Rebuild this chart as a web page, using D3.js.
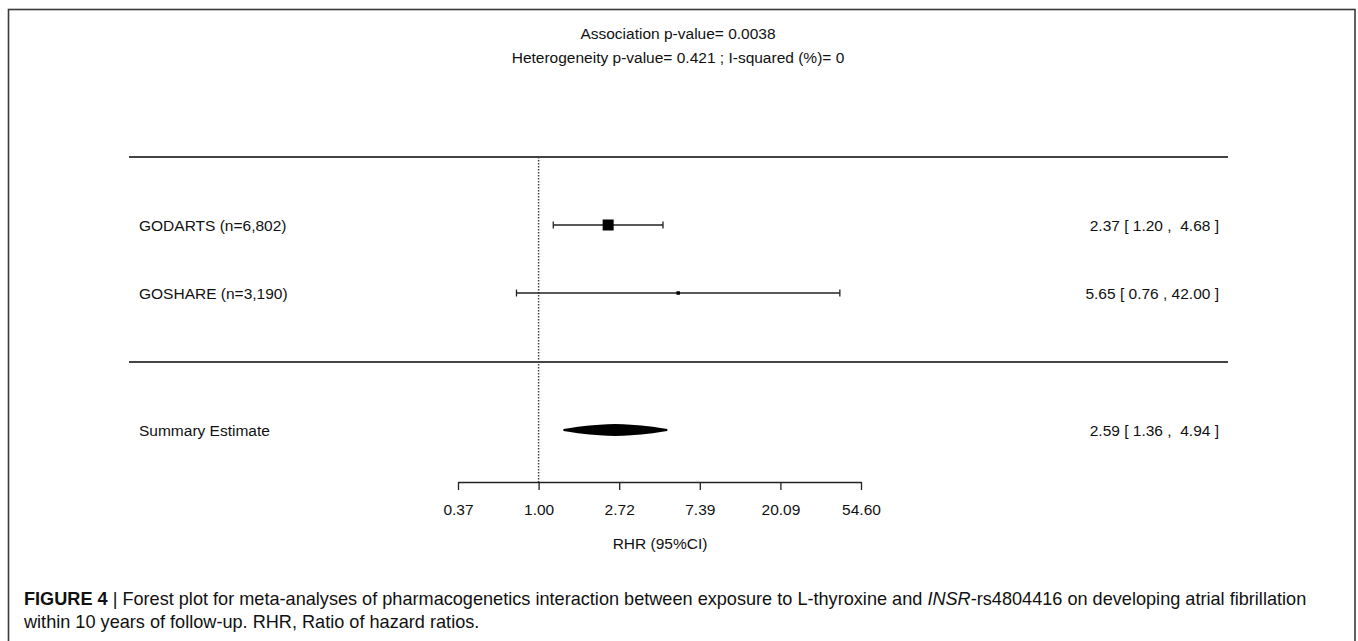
<!DOCTYPE html>
<html>
<head>
<meta charset="utf-8">
<script src="https://cdn.jsdelivr.net/npm/d3@7/dist/d3.min.js"></script>
<style>
  html, body { margin: 0; padding: 0; background: #fff; }
  svg { display: block; }
  text { font-family: Arial, "Liberation Sans", sans-serif; fill: #111; }
</style>
</head>
<body>
<svg id="chart" width="1358" height="641"></svg>
<script>
// ---- data ----
const studies = ["GODARTS (n=6,802)", "GOSHARE (n=3,190)"];
const estimates = [2.37, 5.65];
const lowers = [1.20, 0.76];
const uppers = [4.68, 42.00];
const weights = [11, 3.5]; // relative box size
const summaryLabel = "Summary Estimate";
const summary = { est: 2.59, lo: 1.36, hi: 4.94 };
const tickValues = [Math.exp(-1), 1, Math.exp(1), Math.exp(2), Math.exp(3), Math.exp(4)];
const tickLabels = ["0.37", "1.00", "2.72", "7.39", "20.09", "54.60"];
const titleLines = ["Association p-value= 0.0038", "Heterogeneity p-value= 0.421 ; I-squared (%)= 0"];
const axisTitle = "RHR (95%CI)";

(function () {
const svg = d3.select("#chart");
const fmt = d3.format(".2f");
const ciText = (e, l, u) => `${fmt(e)} [ ${fmt(l)} , ${fmt(u).padStart(5, "\u00a0")} ]`;

// frame
svg.append("rect").attr("x", 8.5).attr("y", 9.5).attr("width", 1346.5).attr("height", 660)
  .attr("fill", "none").attr("stroke", "#3a3a3a").attr("stroke-width", 1.6);

const x = d3.scaleLog().domain([Math.exp(-1), Math.exp(4)]).range([458, 861]);
const rowY = d3.scaleOrdinal().domain(studies).range([225, 293]);
const sumY = 430;
const fs = 15.5;

// titles
svg.selectAll("text.title").data(titleLines).join("text")
  .attr("class", "title")
  .attr("x", 678).attr("y", (d, i) => 33 + i * 24)
  .attr("text-anchor", "middle").attr("dominant-baseline", "central")
  .style("font-size", fs + "px").text(d => d);

// horizontal rules
[157, 362].forEach(y => {
  svg.append("line").attr("x1", 129).attr("x2", 1228).attr("y1", y).attr("y2", y)
    .attr("stroke", "#444").attr("stroke-width", 1.8);
});

// reference line at 1
svg.append("line").attr("x1", x(1)).attr("x2", x(1)).attr("y1", 157).attr("y2", 482)
  .attr("stroke", "#444").attr("stroke-width", 1.5).attr("stroke-dasharray", "1.6,1.4");

// study rows
const rows = svg.append("g");
studies.forEach((s, i) => {
  const y = rowY(s);
  const g = rows.append("g");
  g.append("line").attr("x1", x(lowers[i])).attr("x2", x(uppers[i])).attr("y1", y).attr("y2", y)
    .attr("stroke", "#222").attr("stroke-width", 1.3);
  [lowers[i], uppers[i]].forEach(v => {
    g.append("line").attr("x1", x(v)).attr("x2", x(v)).attr("y1", y - 3.5).attr("y2", y + 3.5)
      .attr("stroke", "#222").attr("stroke-width", 1.3);
  });
  const w = weights[i];
  g.append("rect").attr("x", x(estimates[i]) - w / 2).attr("y", y - w / 2)
    .attr("width", w).attr("height", w).attr("fill", "#000");
  g.append("text").attr("x", 139).attr("y", y).attr("dominant-baseline", "central")
    .style("font-size", fs + "px").text(s);
  g.append("text").attr("x", 1219).attr("y", y).attr("dominant-baseline", "central")
    .attr("text-anchor", "end").style("font-size", fs + "px").style("white-space", "pre")
    .text(ciText(estimates[i], lowers[i], uppers[i]));
});

// summary (spindle-shaped diamond)
const lo = x(summary.lo), hi = x(summary.hi), c = x(summary.est);
const profile = [[0, 1], [0.1, 1.8], [0.28, 3.2], [0.5, 4.4], [0.7, 5.3], [0.85, 5.8], [1, 6]];
const leftPts = profile.map(([t, h]) => [lo + (c - lo) * t, h]);
const rightPts = profile.slice().reverse().map(([t, h]) => [hi - (hi - c) * t, h]);
const upper = leftPts.concat(rightPts).map(([px, h]) => [px, sumY - h]);
const lower = leftPts.concat(rightPts).reverse().map(([px, h]) => [px, sumY + h]);
svg.append("path").attr("d", d3.line()(upper.concat(lower)) + "Z").attr("fill", "#000");
svg.append("text").attr("x", 139).attr("y", sumY).attr("dominant-baseline", "central")
  .style("font-size", fs + "px").text(summaryLabel);
svg.append("text").attr("x", 1219).attr("y", sumY).attr("dominant-baseline", "central")
  .attr("text-anchor", "end").style("font-size", fs + "px")
  .text(ciText(summary.est, summary.lo, summary.hi));

// axis
const axis = d3.axisBottom(x).tickValues(tickValues).tickFormat((d, i) => tickLabels[i])
  .tickSizeInner(8).tickSizeOuter(0).tickPadding(14);
const ag = svg.append("g").attr("transform", "translate(0,482)").call(axis);
ag.select(".domain").attr("stroke", "#222").attr("stroke-width", 1.3);
ag.selectAll(".tick line").attr("stroke", "#222").attr("stroke-width", 1.3);
ag.selectAll(".tick text").style("font-size", fs + "px")
  .style("font-family", "Arial, 'Liberation Sans', sans-serif").attr("fill", "#111");
svg.append("text").attr("x", 660).attr("y", 543).attr("text-anchor", "middle")
  .attr("dominant-baseline", "central").style("font-size", fs + "px").text(axisTitle);

// caption
const cap1 = svg.append("text").attr("x", 24).attr("y", 605).style("font-size", "16px").attr("fill", "#231f20");
cap1.append("tspan").style("font-weight", "bold").text("FIGURE 4 ");
cap1.append("tspan").text("| ");
cap1.append("tspan").text("Forest plot for meta-analyses of pharmacogenetics interaction between exposure to L-thyroxine and ");
cap1.append("tspan").style("font-style", "italic").text("INSR");
cap1.append("tspan").text("-rs4804416 on developing atrial fibrillation");
const cap2 = svg.append("text").attr("x", 24).attr("y", 628).style("font-size", "16px").attr("fill", "#231f20")
  .text("within 10 years of follow-up. RHR, Ratio of hazard ratios.");
const w1 = cap1.node().getComputedTextLength();
const k = 1283 / w1;
cap1.style("font-size", (16 * k) + "px");
cap2.style("font-size", (16 * k) + "px");
})();
</script>
</body>
</html>
